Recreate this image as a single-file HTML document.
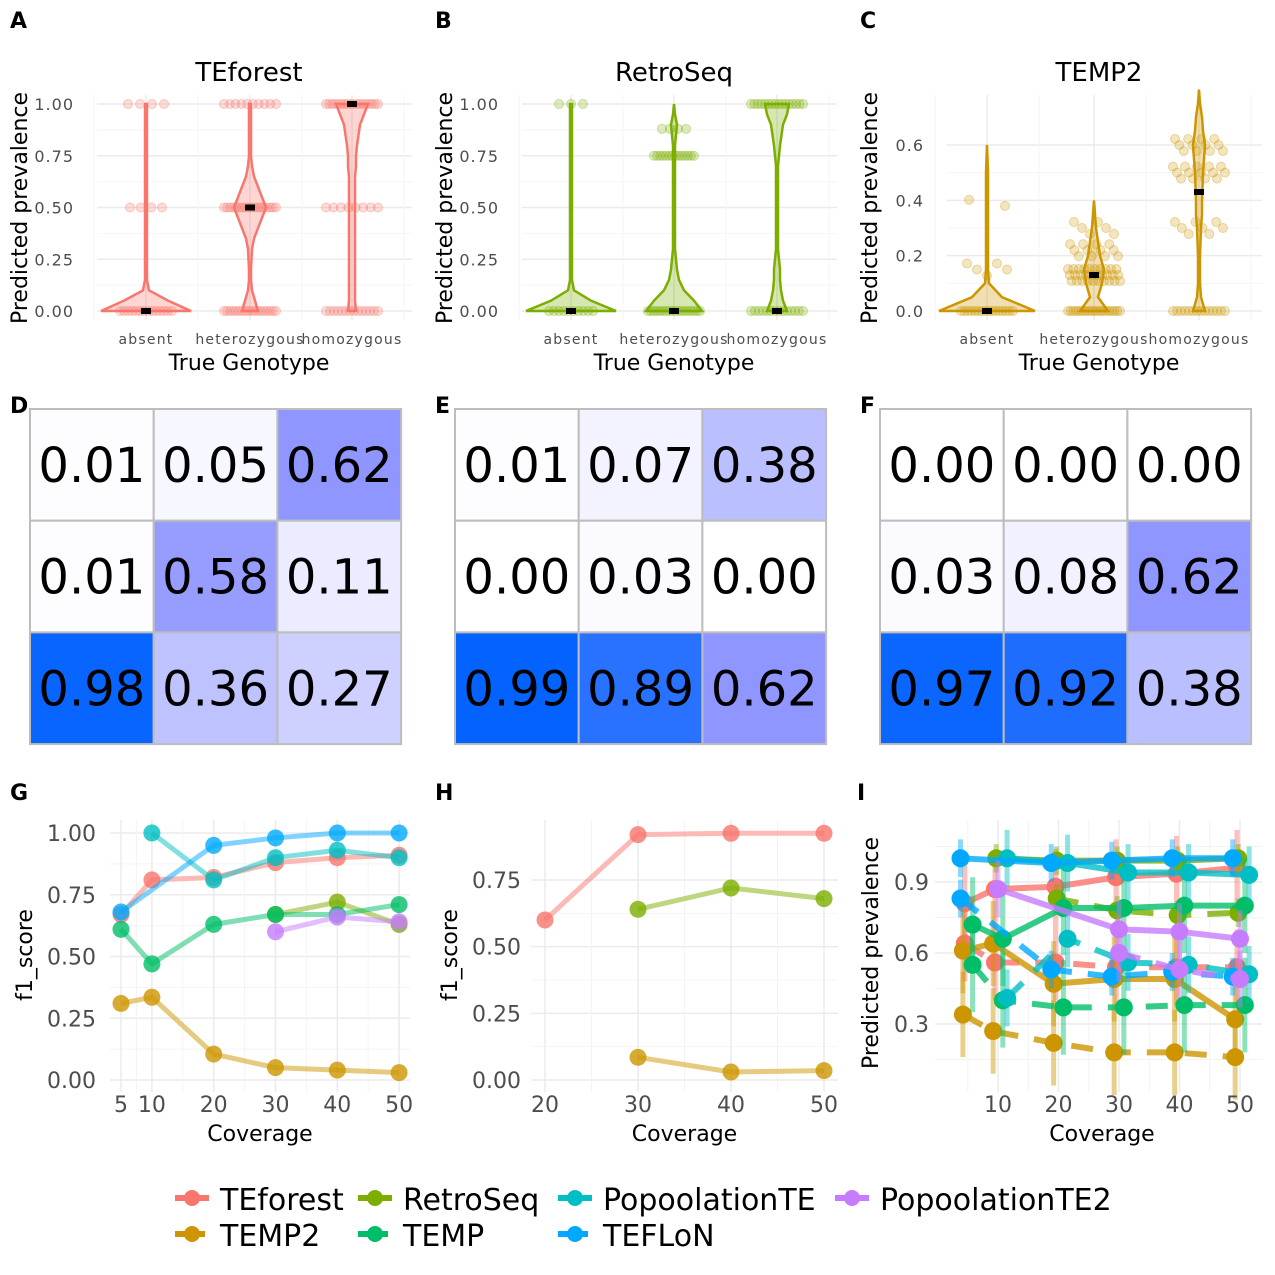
<!DOCTYPE html>
<html><head><meta charset="utf-8"><style>
body{margin:0;background:#fff}
svg{display:block;font-family:"DejaVu Sans","Liberation Sans",sans-serif}
</style></head><body>
<svg id="s" width="1275" height="1275" viewBox="0 0 1275 1275"></svg>
<script>
const NS="http://www.w3.org/2000/svg";
const S=document.getElementById('s');
function el(t,a,p){const e=document.createElementNS(NS,t);for(const k in a)e.setAttribute(k,a[k]);(p||S).appendChild(e);return e;}
function tx(x,y,s,size,o){o=o||{};const e=el('text',{x:x,y:y,'font-size':size,fill:o.fill||'#000','text-anchor':o.a||'middle','font-weight':o.w||'normal'},o.p);if(o.ls)e.setAttribute('letter-spacing',o.ls);if(o.rot)e.setAttribute('transform','rotate(-90 '+x+' '+y+')');e.textContent=s;return e;}
const COL={TEforest:'#F8766D',TEMP2:'#CD9600',RetroSeq:'#7CAE00',TEMP:'#00BE67',PopoolationTE:'#00BFC4',TEFLoN:'#00A9FF',PopoolationTE2:'#C77CFF'};

// ---------- Violin data ----------
const genotypes=['absent','heterozygous','homozygous'];
const violinLevels=[0,0.05,0.1,0.15,0.2,0.3,0.35,0.4,0.5,0.6,0.65,0.7,0.75,0.8,0.9,0.95,1];
const violinA=[[45,22,3,1,1,1,1,1,1,1,1,1,1,1,1,1,1],[8,5,2,1,1,2,4,8,16,8,4,2,1,1,1,1,1],[4,3,3,3,3,3,3,3,3,3,3,4,4,5,8,12,16]];
const violinB=[[45,20,3,1,1,1,1,1,1,1,1,1,1,1,1,1,1],[28,20,10,5,3,1,1,1,1,1,1,1,1,1,3,1,0],[10,6,4,3,3,1,1,1,1,1,1,1,2,3,6,10,12]];
const violinC=[[48,15,2,1,1,1,1,1,1,0,0,0,0,0,0,0,0],[14,4,8,10,6,2,1,0,0,0,0,0,0,0,0,0,0],[6,2,1,1,1,2,3,3,4,6,4,3,1,0,0,0,0]];
const mediansA=[0,0.5,1],mediansB=[0,0,0],mediansC=[0,0.13,0.43];
const stripsA=[[[0,26,14],[0.5,16,4],[1,18,4]],[[0,26,18],[0.5,26,18],[1,26,10]],[[0,26,14],[0.5,26,8],[1,26,18]]];
const stripsB=[[[0,22,10],[1,12,3]],[[0,26,18],[0.75,20,14],[0.88,12,4]],[[0,26,14],[1,26,16]]];
const stripsC=[[[0,26,16],[0.15,20,5],[0.38,18,2]],[[0,26,20],[0.13,26,30],[0.22,24,12],[0.3,20,6]],[[0,26,14],[0.3,24,8],[0.5,26,14],[0.6,24,12]]];

function violinPanel(letter,px,title,col,cats,dens,meds,strips,ymax,ticks,tickLbl,name){
  const g=el('g',{});
  const x0=px+97,x1=px+412,yT=95,yB=320;
  const ys=v=>311-v*(ymax==1?207:276.7);
  tx(px+10,28,letter,22,{w:'bold',a:'start'});
  tx(px+249,81,title,26);
  for(let i=0;i<ticks.length;i++){el('line',{x1:x0,x2:x1,y1:ys(ticks[i]),y2:ys(ticks[i]),stroke:'#ebebeb','stroke-width':1.5},g);}
  for(let i=0;i<ticks.length-1;i++){const m=(ticks[i]+ticks[i+1])/2;el('line',{x1:x0,x2:x1,y1:ys(m),y2:ys(m),stroke:'#f4f4f4','stroke-width':1},g);}
  cats.forEach(cx=>el('line',{x1:cx,x2:cx,y1:yT,y2:yB,stroke:'#ebebeb','stroke-width':1.5},g));
  [cats[0]-52,cats[0]+52,cats[1]+52,cats[2]+52].forEach(x=>el('line',{x1:x,x2:x,y1:yT,y2:yB,stroke:'#f4f4f4','stroke-width':1},g));
  ticks.forEach((t,i)=>{const e=tx(x0-23,ys(t)+6,tickLbl[i],16,{a:'end',fill:'#4d4d4d',ls:1});});
  tx(px+27,208,'Predicted prevalence',22,{rot:1});
  genotypes.forEach((c,i)=>{tx(cats[i],344,c,14,{fill:'#4d4d4d',ls:1.2});});
  tx(px+249,370,'True Genotype',22);
  cats.forEach((cx,i)=>{
    const d=dens[i];let L='',R='';let lastIdx=d.length-1;
    while(lastIdx>0&&d[lastIdx]==0)lastIdx--;
    const pts=[];for(let k=0;k<=lastIdx;k++)pts.push([violinLevels[k],d[k]]);
    if(lastIdx<d.length-1)pts.push([violinLevels[lastIdx+1],0]);
    pts.forEach((p,k)=>{L+=(k?'L':'M')+(cx-p[1])+','+ys(p[0]);});
    for(let k=pts.length-1;k>=0;k--)R+='L'+(cx+pts[k][1])+','+ys(pts[k][0]);
    const v=el('path',{d:L+R+'Z',fill:col,'fill-opacity':0.3,stroke:col,'stroke-width':2.5},g);
    
    strips[i].forEach(s=>{const n=s[2];for(let k=0;k<n;k++){const dx=n==1?0:-s[1]+2*s[1]*k/(n-1);
      const c=el('circle',{cx:cx+dx,cy:ys(s[0])+((k%3)-1)*(s[0]>0&&s[0]<1&&ymax<1?6:0),r:4.5,fill:col,'fill-opacity':0.25,stroke:col,'stroke-opacity':0.35},g);
      }});
    const m=el('rect',{x:cx-5,y:ys(meds[i])-3,width:10,height:6,fill:'#000'},g);
    
  });
}
violinPanel('A',0,'TEforest',COL.TEforest,[146,250,352],violinA,mediansA,stripsA,1,[0,0.25,0.5,0.75,1],['0.00','0.25','0.50','0.75','1.00'],'panel-a-violin');
violinPanel('B',425,'RetroSeq',COL.RetroSeq,[571,674,777],violinB,mediansB,stripsB,1,[0,0.25,0.5,0.75,1],['0.00','0.25','0.50','0.75','1.00'],'panel-b-violin');
violinPanel('C',850,'TEMP2',COL.TEMP2,[987,1094,1199],violinC,mediansC,stripsC,0.75,[0,0.2,0.4,0.6],['0.0','0.2','0.4','0.6'],'panel-c-violin');

// ---------- Heatmaps ----------
const heatD=[[0.01,0.05,0.62],[0.01,0.58,0.11],[0.98,0.36,0.27]];
const heatE=[[0.01,0.07,0.38],[0.00,0.03,0.00],[0.99,0.89,0.62]];
const heatF=[[0.00,0.00,0.00],[0.03,0.08,0.62],[0.97,0.92,0.38]];
function hcol(v){let a,b,t;if(v<=0.62){a=[255,255,255];b=[143,150,255];t=v/0.62;}else{a=[143,150,255];b=[0,98,255];t=(v-0.62)/0.38;}
  return 'rgb('+a.map((c,i)=>Math.round(c+(b[i]-c)*t)).join(',')+')';}
function heat(letter,x0,data,name){
  const g=el('g',{});
  tx(x0-20,413,letter,22,{w:'bold',a:'start'});
  const w=123.7,h=111.7,y0=409;
  data.forEach((row,r)=>row.forEach((v,c)=>{
    const rc=el('rect',{x:x0+c*w,y:y0+r*h,width:w,height:h,fill:hcol(v),stroke:'#bdbdbd','stroke-width':2},g);
    
    tx(x0+c*w+w/2,y0+r*h+h/2+17,v.toFixed(2),48,{p:g});
  }));
}
heat('D',30,heatD,'panel-d-heatmap');heat('E',455,heatE,'panel-e-heatmap');heat('F',880,heatF,'panel-f-heatmap');

// ---------- Panel G ----------
const covG=[5,10,20,30,40,50];
const gTEforest=[0.67,0.81,0.82,0.88,0.90,0.91];
const gTEMP2=[0.31,0.335,0.105,0.05,0.04,0.03];
const gRetroSeq=[null,null,null,0.67,0.72,0.63];
const gTEMP=[0.61,0.47,0.63,0.67,0.67,0.71];
const gPopoolationTE=[null,1.0,0.81,0.90,0.93,0.90];
const gTEFLoN=[0.68,null,0.95,0.98,1.0,1.0];
const gPopoolationTE2=[null,null,null,0.60,0.66,0.64];
const gTicks=[0,0.25,0.5,0.75,1];
const gTickLbl=['0.00','0.25','0.50','0.75','1.00'];
const gXTickLbl=['5','10','20','30','40','50'];
// ---------- Panel H ----------
const covH=[20,30,40,50];
const hTEforest=[0.60,0.92,0.925,0.925];
const hRetroSeq=[null,0.64,0.72,0.68];
const hTEMP2=[null,0.085,0.03,0.035];
const hTicks=[0,0.25,0.5,0.75];
const hTickLbl=['0.00','0.25','0.50','0.75'];
const hXTickLbl=['20','30','40','50'];

function linePanel(letter,px,xs,ys,xTicks,xLbl,yTicks,yLbl,series,yTitle,name,x0,x1,yT,yB,tickX){
  const g=el('g',{});
  tx(px+10,800,letter,22,{w:'bold',a:'start'});
  yTicks.forEach((t,i)=>{el('line',{x1:x0,x2:x1,y1:ys(t),y2:ys(t),stroke:'#ebebeb','stroke-width':1.5},g);
    if(i<yTicks.length-1){const m=(t+yTicks[i+1])/2;el('line',{x1:x0,x2:x1,y1:ys(m),y2:ys(m),stroke:'#f4f4f4'},g);}
    tx(tickX,ys(t)+8,yLbl[i],22,{a:'end',fill:'#4d4d4d'});});
  xTicks.forEach((t,i)=>{el('line',{x1:xs(t),x2:xs(t),y1:yT,y2:yB,stroke:'#ebebeb','stroke-width':1.5},g);
    tx(xs(t),1112,xLbl[i],22,{fill:'#4d4d4d'});});
  for(let i=0;i<xTicks.length-1;i++){const m=(xTicks[i]+xTicks[i+1])/2;el('line',{x1:xs(m),x2:xs(m),y1:yT,y2:yB,stroke:'#f4f4f4'},g);}
  tx((x0+x1)/2,1141,'Coverage',22);
  tx(px+32,955,yTitle,22,{rot:1});
  series.forEach(s=>{
    const pts=[];s.v.forEach((v,i)=>{if(v!=null)pts.push([xs(s.x[i]),ys(v)]);});
    const p=el('polyline',{points:pts.map(q=>q.join(',')).join(' '),fill:'none',stroke:s.c,'stroke-width':5,'stroke-opacity':0.5,'stroke-linejoin':'round'},g);
    
    pts.forEach(q=>{const c=el('circle',{cx:q[0],cy:q[1],r:8.5,fill:s.c,'fill-opacity':0.8},g);
      });
  });
}
const xsG=v=>121+(v-5)*6.18, ysG=v=>1080-v*247;
linePanel('G',0,xsG,ysG,[5,10,20,30,40,50],gXTickLbl,gTicks,gTickLbl,[
 {n:'TEforest',c:COL.TEforest,x:covG,v:gTEforest},{n:'TEMP2',c:COL.TEMP2,x:covG,v:gTEMP2},
 {n:'RetroSeq',c:COL.RetroSeq,x:covG,v:gRetroSeq},{n:'TEMP',c:COL.TEMP,x:covG,v:gTEMP},
 {n:'PopoolationTE',c:COL.PopoolationTE,x:covG,v:gPopoolationTE},{n:'TEFLoN',c:COL.TEFLoN,x:covG,v:gTEFLoN},
 {n:'PopoolationTE2',c:COL.PopoolationTE2,x:covG,v:gPopoolationTE2}],'f1_score','panel-g-f1',110,410,820,1092,96);
const xsH=v=>545+(v-20)*9.3, ysH=v=>1080-v*266.7;
linePanel('H',425,xsH,ysH,[20,30,40,50],hXTickLbl,hTicks,hTickLbl,[
 {n:'TEforest',c:COL.TEforest,x:covH,v:hTEforest},{n:'RetroSeq',c:COL.RetroSeq,x:covH,v:hRetroSeq},
 {n:'TEMP2',c:COL.TEMP2,x:covH,v:hTEMP2}],'f1_score','panel-h-f1',531,838,820,1092,521);

// ---------- Panel I ----------
const covI=[5,10,20,30,40,50];
const iSeriesNames=['TEforest','TEMP2','RetroSeq','TEMP','PopoolationTE','TEFLoN','PopoolationTE2'];
const iDodge=[-0.5,-0.8,-0.3,0.8,1.5,-1.2,0];
const iSolid={
 TEforest:[0.81,0.87,0.88,0.92,0.935,0.96],
 TEMP2:[0.61,0.64,0.47,0.49,0.49,0.32],
 RetroSeq:[null,1.0,0.99,0.99,0.99,1.0],
 TEMP:[0.72,0.66,0.79,0.79,0.80,0.80],
 PopoolationTE:[null,1.0,0.98,0.94,0.94,0.93],
 TEFLoN:[1.0,null,0.98,0.99,1.0,1.0],
 PopoolationTE2:[null,0.87,null,0.70,0.69,0.66]};
const iDashed={
 TEforest:[0.64,0.56,0.56,0.54,0.54,0.54],
 TEMP2:[0.34,0.27,0.22,0.18,0.18,0.16],
 RetroSeq:[null,null,0.83,0.78,0.76,0.77],
 TEMP:[0.55,0.40,0.37,0.37,0.38,0.38],
 PopoolationTE:[null,0.41,0.66,0.56,0.55,0.51],
 TEFLoN:[0.83,null,0.53,0.50,0.52,0.50],
 PopoolationTE2:[null,null,null,0.60,0.53,0.49]};
const iErr=[0.16,0.18,0.06,0.2,0.12,0.08,0.12];
const iTicks=[0.3,0.6,0.9], iTickLbl=['0.3','0.6','0.9'];
const iXTicks=[10,20,30,40,50];
(function(){
  const g=el('g',{});
  const xs=v=>998+(v-10)*6.05, ys=v=>1024-(v-0.3)*236.7;
  tx(857,800,'I',22,{w:'bold',a:'start'});
  iTicks.forEach((t,i)=>{el('line',{x1:935,x2:1262,y1:ys(t),y2:ys(t),stroke:'#ebebeb','stroke-width':1.5},g);
    tx(929,ys(t)+8,iTickLbl[i],22,{a:'end',fill:'#4d4d4d'});});
  [0.15,0.45,0.75,1.05].forEach(t=>el('line',{x1:935,x2:1262,y1:ys(t),y2:ys(t),stroke:'#f4f4f4'},g));
  iXTicks.forEach(t=>{el('line',{x1:xs(t),x2:xs(t),y1:820,y2:1092,stroke:'#ebebeb','stroke-width':1.5},g);
    tx(xs(t),1112,String(t),22,{fill:'#4d4d4d'});});
  [5,15,25,35,45].forEach(t=>el('line',{x1:xs(t),x2:xs(t),y1:820,y2:1092,stroke:'#f4f4f4'},g));
  tx(1102,1141,'Coverage',22);
  tx(878,953,'Predicted prevalence',22,{rot:1});
  iSeriesNames.forEach((n,si)=>{
    [[iSolid[n],'none'],[iDashed[n],'22,16']].forEach(([vals,dash])=>{
      const pts=[];vals.forEach((v,i)=>{if(v!=null)pts.push([xs(covI[i]+iDodge[si]),ys(v)]);});
      pts.forEach(q=>{const e=el('line',{x1:q[0],x2:q[0],y1:q[1]-iErr[si]*236.7,y2:q[1]+iErr[si]*236.7,stroke:COL[n],'stroke-width':5,'stroke-opacity':0.45},g);
        });
      const p=el('polyline',{points:pts.map(q=>q.join(',')).join(' '),fill:'none',stroke:COL[n],'stroke-width':6,'stroke-opacity':0.8,'stroke-dasharray':dash},g);
      
      pts.forEach(q=>{const c=el('circle',{cx:q[0],cy:q[1],r:9,fill:COL[n]},g);
        });
    });
  });
})();

// ---------- Legend ----------
const legendNames=['TEforest','RetroSeq','PopoolationTE','PopoolationTE2','TEMP2','TEMP','TEFLoN'];
const legendX=[175,358,558,835,175,358,558];
const legendRow=[0,0,0,0,1,1,1];
(function(){
  const g=el('g',{});
  legendNames.forEach((n,i)=>{
    const y=1200+legendRow[i]*36,x=legendX[i];
    const e=el('g',{},g);
    
    
    el('line',{x1:x,x2:x+34,y1:y-2,y2:y-2,stroke:COL[n],'stroke-width':6,'stroke-dasharray':legendRow[i]?'12,6':'none'},e);
    el('circle',{cx:x+17,cy:y-2,r:8,fill:COL[n]},e);
    tx(x+45,y+10,n,30,{a:'start',p:e});
  });
})();
</script>
</body></html>
